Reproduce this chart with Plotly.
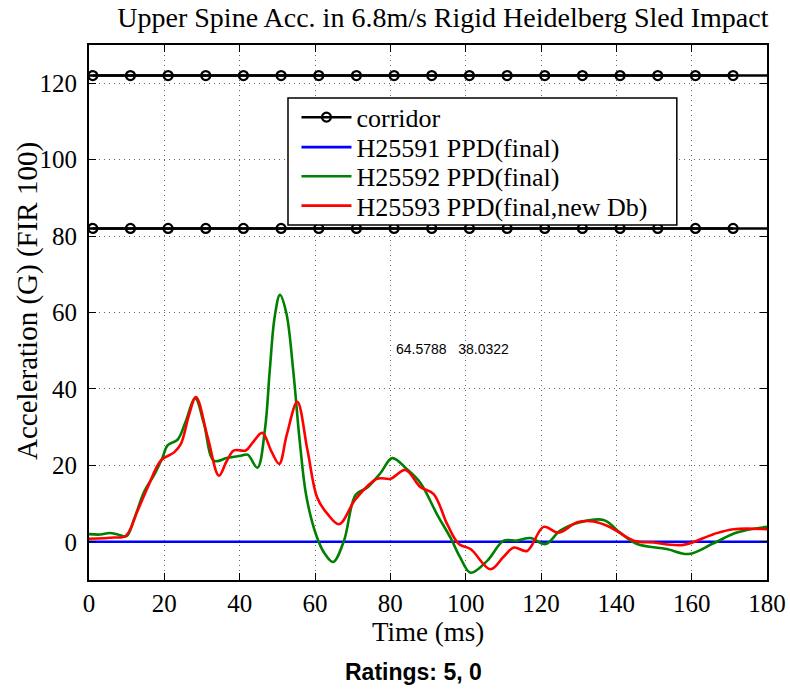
import plotly.graph_objects as go

# ---------------- data ----------------
corridor_marker_t = [1, 11, 21, 31, 41, 51, 61, 71, 81, 91, 101, 111, 121, 131, 141, 151, 161, 171]
corridor_line_t = [0, 180]
corridor_upper = 122
corridor_lower = 82

blue_t = [0, 180]
blue_y = [0, 0]

green_t = [0, 3, 5.5, 8, 10, 12, 14.7, 17.3, 19.5, 20.9, 23.5, 25.5, 28.2, 30.5, 33.2, 36.8,
           40.3, 42.1, 44.7, 46.7, 48, 49.3, 50.7, 52.4, 54.2, 56, 57.7, 60.4, 62.5, 64.8,
           67.7, 70.8, 73.9, 77.4, 80.5, 84.5, 88, 92.4, 96, 98.5, 101.3, 105.7, 110.1,
           113.6, 117.2, 121.2, 125.1, 130.4, 136.6, 141, 145.5, 153.4, 159.2, 165.8, 172, 180]
green_y = [2.0, 1.9, 2.3, 1.8, 1.5, 6, 13.2, 17.5, 22, 25.3, 26.7, 31, 37.5, 31, 21.2, 22.0,
           22.5, 22.8, 19.4, 29.3, 45, 58.9, 64.6, 59.8, 45, 25.8, 11.9, 1.5, -3, -5.3,
           0.3, 12.3, 14.2, 18.0, 21.9, 18.9, 15.4, 7.2, 1.0, -4, -8.1, -5.0, 0.3,
           0.3, 1.0, -0.6, 2.9, 5.1, 5.7, 2.4, -0.6, -1.9, -3.2, -0.4, 2.4, 3.9]

red_t = [0, 6.7, 9.8, 12.9, 15.6, 19.1, 22.6, 24.4, 26.5, 28.4, 31.5, 34.5, 36.5, 38.5, 41.6,
         43.5, 46, 48.5, 50.5, 52.5, 55.3, 58, 60.6, 63.3, 66.4, 70.8, 76.5, 80.1, 84, 88,
         91.5, 95.1, 98.2, 101.3, 106.6, 110, 112.8, 116.3, 120.7, 124.7, 129.6, 134, 138.4,
         144.6, 149.9, 157.8, 165.8, 171.1, 180]
red_y = [0.8, 1.1, 1.6, 8.1, 14.3, 21.3, 23.4, 25.6, 33, 37.9, 27.4, 17.3, 21, 23.9, 23.9,
         26, 28.5, 23.5, 20.4, 28, 36.6, 24, 11.5, 7.3, 4.6, 11.2, 16.5, 16.5, 18.8, 14.3,
         12.5, 4.6, -0.6, -1.9, -7.2, -4, -1.5, -2.4, 3.9, 2.4, 5.1, 5.3, 3.8,
         0.3, -0.2, -0.8, 2.0, 3.3, 3.3]

x_ticks = [0, 20, 40, 60, 80, 100, 120, 140, 160, 180]
y_ticks = [0, 20, 40, 60, 80, 100, 120]

title_text = "Upper Spine Acc. in 6.8m/s Rigid Heidelberg Sled Impact"
x_title = "Time (ms)"
y_title = "Acceleration (G) (FIR 100)"
peak_text = "64.5788\u00a0\u00a0\u00a038.0322"
ratings_text = "<b>Ratings: 5, 0</b>"

SERIF = "Liberation Serif"
SANS = "Liberation Sans"

fig = go.Figure()

# corridor full-length lines
fig.add_trace(go.Scatter(
    x=corridor_line_t + [None] + corridor_line_t,
    y=[corridor_upper] * 2 + [None] + [corridor_lower] * 2,
    mode="lines", line=dict(color="black", width=2.5),
    showlegend=False, hoverinfo="skip"))
# corridor with markers (legend entry)
fig.add_trace(go.Scatter(
    x=corridor_marker_t + [None] + corridor_marker_t,
    y=[corridor_upper] * len(corridor_marker_t) + [None] + [corridor_lower] * len(corridor_marker_t),
    mode="lines+markers", name="corridor", legend="legend",
    line=dict(color="black", width=2.5),
    marker=dict(symbol="circle-open", size=9, color="black", line=dict(width=2.2, color="black"))))

fig.add_trace(go.Scatter(x=blue_t, y=blue_y, mode="lines", name="H25591 PPD(final)", legend="legend2",
                         line=dict(color="#0000FF", width=2.6)))
fig.add_trace(go.Scatter(x=green_t, y=green_y, mode="lines", name="H25592 PPD(final)", legend="legend3",
                         line=dict(color="#008000", width=2.6, shape="spline", smoothing=1.0)))
fig.add_trace(go.Scatter(x=red_t, y=red_y, mode="lines", name="H25593 PPD(final,new Db)", legend="legend4",
                         line=dict(color="#FF0000", width=2.6, shape="spline", smoothing=1.0)))

axis_common = dict(
    showline=True, linecolor="black", linewidth=2, mirror="ticks",
    ticks="inside", ticklen=7, tickwidth=1.2, tickcolor="black",
    showgrid=True, gridcolor="#666", griddash="1px,4px", gridwidth=1,
    zeroline=False,
    tickfont=dict(family=SERIF, size=25, color="black"),
)

fig.update_xaxes(range=[0, 180], tickvals=x_ticks, **axis_common)
fig.update_yaxes(range=[-10, 130], tickvals=y_ticks, ticklabelstandoff=5, **axis_common)

legend_x = 0.306
legend_rows = [0.865, 0.809, 0.7545, 0.6995]


def leg(yv):
    return dict(x=legend_x, y=yv, xanchor="left", yanchor="middle",
                bgcolor="rgba(0,0,0,0)", borderwidth=0,
                font=dict(family=SERIF, size=26, color="black"),
                itemwidth=50)


fig.update_layout(
    width=790, height=692,
    margin=dict(l=89, r=23, t=45, b=112, autoexpand=False),
    paper_bgcolor="white", plot_bgcolor="white",
    title=dict(text=title_text, font=dict(family=SERIF, size=28, color="black"),
               x=0.522, xanchor="center", y=0.975, yanchor="middle", xref="paper"),
    legend=leg(legend_rows[0]),
    legend2=leg(legend_rows[1]),
    legend3=leg(legend_rows[2]),
    legend4=leg(legend_rows[3]),
    shapes=[dict(type="rect", xref="paper", yref="paper",
                 x0=0.2935, x1=0.867, y0=0.6636, y1=0.901,
                 line=dict(color="black", width=1.5), fillcolor="white", layer="above")],
    annotations=[
        dict(text=peak_text, x=81, y=50.5, xref="x", yref="y", xanchor="left", yanchor="middle",
             showarrow=False, font=dict(family=SANS, size=14, color="black")),
        dict(text=x_title, x=0.5, y=-0.097, xref="paper", yref="paper", xanchor="center",
             yanchor="middle", showarrow=False, font=dict(family=SERIF, size=27, color="black")),
        dict(text=y_title, x=-0.09, y=0.5215, xref="paper", yref="paper", xanchor="center",
             yanchor="middle", textangle=-90, showarrow=False,
             font=dict(family=SERIF, size=29, color="black")),
        dict(text=ratings_text, x=0.478, y=-0.172, xref="paper", yref="paper", xanchor="center",
             yanchor="middle", showarrow=False, font=dict(family=SANS, size=23, color="black")),
    ],
)

fig.write_html("out.html")
